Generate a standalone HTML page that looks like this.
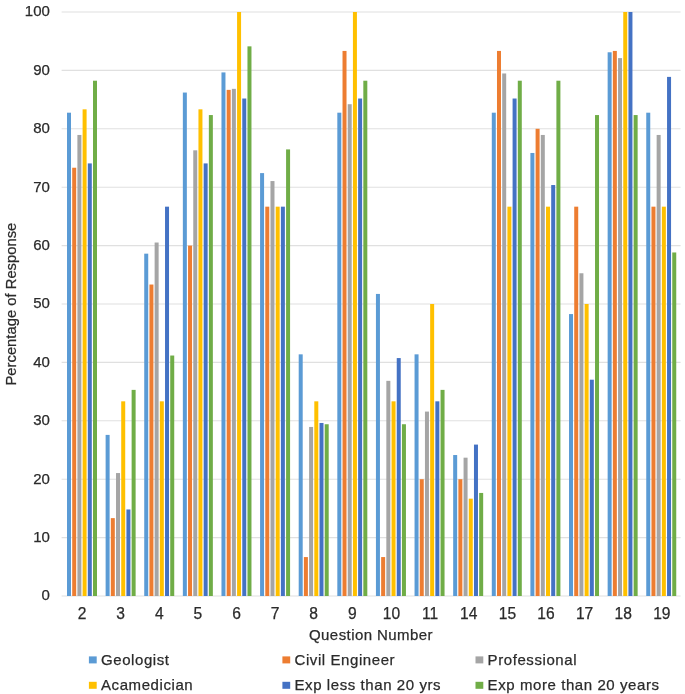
<!DOCTYPE html>
<html><head><meta charset="utf-8"><title>Chart</title>
<style>
html,body{margin:0;padding:0;background:#fff;}
body{width:685px;height:694px;overflow:hidden;font-family:"Liberation Sans",sans-serif;}
svg{display:block;will-change:transform;transform:translateZ(0);}
text{font-family:"Liberation Sans",sans-serif;fill:#2b2b2b;stroke:#2b2b2b;stroke-width:0.25px;}
</style></head><body>
<svg width="685" height="694" viewBox="0 0 685 694">
<rect x="0" y="0" width="685" height="694" fill="#ffffff"/>
<g stroke="#E0E0E0" stroke-width="1.1">
<line x1="61.6" y1="596.00" x2="680.6" y2="596.00"/>
<line x1="61.6" y1="537.60" x2="680.6" y2="537.60"/>
<line x1="61.6" y1="479.20" x2="680.6" y2="479.20"/>
<line x1="61.6" y1="420.80" x2="680.6" y2="420.80"/>
<line x1="61.6" y1="362.40" x2="680.6" y2="362.40"/>
<line x1="61.6" y1="304.00" x2="680.6" y2="304.00"/>
<line x1="61.6" y1="245.60" x2="680.6" y2="245.60"/>
<line x1="61.6" y1="187.20" x2="680.6" y2="187.20"/>
<line x1="61.6" y1="128.80" x2="680.6" y2="128.80"/>
<line x1="61.6" y1="70.40" x2="680.6" y2="70.40"/>
<line x1="61.6" y1="12.00" x2="680.6" y2="12.00"/>
</g>
<g><rect x="67.00" y="112.69" width="4.00" height="483.31" fill="#5B9BD5"/><rect x="72.20" y="167.73" width="4.00" height="428.27" fill="#ED7D31"/><rect x="77.40" y="134.95" width="4.00" height="461.05" fill="#A5A5A5"/><rect x="82.60" y="109.33" width="4.00" height="486.67" fill="#FFC000"/><rect x="87.80" y="163.41" width="4.00" height="432.59" fill="#4472C4"/><rect x="93.00" y="80.71" width="4.00" height="515.29" fill="#70AD47"/></g>
<g><rect x="105.62" y="434.90" width="4.00" height="161.10" fill="#5B9BD5"/><rect x="110.82" y="518.13" width="4.00" height="77.87" fill="#ED7D31"/><rect x="116.02" y="473.05" width="4.00" height="122.95" fill="#A5A5A5"/><rect x="121.22" y="401.33" width="4.00" height="194.67" fill="#FFC000"/><rect x="126.42" y="509.48" width="4.00" height="86.52" fill="#4472C4"/><rect x="131.62" y="389.88" width="4.00" height="206.12" fill="#70AD47"/></g>
<g><rect x="144.23" y="253.66" width="4.00" height="342.34" fill="#5B9BD5"/><rect x="149.43" y="284.53" width="4.00" height="311.47" fill="#ED7D31"/><rect x="154.63" y="242.53" width="4.00" height="353.47" fill="#A5A5A5"/><rect x="159.83" y="401.33" width="4.00" height="194.67" fill="#FFC000"/><rect x="165.03" y="206.67" width="4.00" height="389.33" fill="#4472C4"/><rect x="170.23" y="355.53" width="4.00" height="240.47" fill="#70AD47"/></g>
<g><rect x="182.85" y="92.55" width="4.00" height="503.45" fill="#5B9BD5"/><rect x="188.05" y="245.60" width="4.00" height="350.40" fill="#ED7D31"/><rect x="193.25" y="150.32" width="4.00" height="445.68" fill="#A5A5A5"/><rect x="198.45" y="109.33" width="4.00" height="486.67" fill="#FFC000"/><rect x="203.65" y="163.41" width="4.00" height="432.59" fill="#4472C4"/><rect x="208.85" y="115.06" width="4.00" height="480.94" fill="#70AD47"/></g>
<g><rect x="221.47" y="72.41" width="4.00" height="523.59" fill="#5B9BD5"/><rect x="226.67" y="89.87" width="4.00" height="506.13" fill="#ED7D31"/><rect x="231.87" y="88.84" width="4.00" height="507.16" fill="#A5A5A5"/><rect x="237.07" y="12.00" width="4.00" height="584.00" fill="#FFC000"/><rect x="242.27" y="98.52" width="4.00" height="497.48" fill="#4472C4"/><rect x="247.47" y="46.35" width="4.00" height="549.65" fill="#70AD47"/></g>
<g><rect x="260.08" y="173.10" width="4.00" height="422.90" fill="#5B9BD5"/><rect x="265.28" y="206.67" width="4.00" height="389.33" fill="#ED7D31"/><rect x="270.48" y="181.05" width="4.00" height="414.95" fill="#A5A5A5"/><rect x="275.69" y="206.67" width="4.00" height="389.33" fill="#FFC000"/><rect x="280.88" y="206.67" width="4.00" height="389.33" fill="#4472C4"/><rect x="286.08" y="149.41" width="4.00" height="446.59" fill="#70AD47"/></g>
<g><rect x="298.70" y="354.34" width="4.00" height="241.66" fill="#5B9BD5"/><rect x="303.90" y="557.07" width="4.00" height="38.93" fill="#ED7D31"/><rect x="309.10" y="426.95" width="4.00" height="169.05" fill="#A5A5A5"/><rect x="314.30" y="401.33" width="4.00" height="194.67" fill="#FFC000"/><rect x="319.50" y="422.96" width="4.00" height="173.04" fill="#4472C4"/><rect x="324.70" y="424.24" width="4.00" height="171.76" fill="#70AD47"/></g>
<g><rect x="337.32" y="112.69" width="4.00" height="483.31" fill="#5B9BD5"/><rect x="342.52" y="50.93" width="4.00" height="545.07" fill="#ED7D31"/><rect x="347.72" y="104.21" width="4.00" height="491.79" fill="#A5A5A5"/><rect x="352.92" y="12.00" width="4.00" height="584.00" fill="#FFC000"/><rect x="358.12" y="98.52" width="4.00" height="497.48" fill="#4472C4"/><rect x="363.32" y="80.71" width="4.00" height="515.29" fill="#70AD47"/></g>
<g><rect x="375.94" y="293.93" width="4.00" height="302.07" fill="#5B9BD5"/><rect x="381.14" y="557.07" width="4.00" height="38.93" fill="#ED7D31"/><rect x="386.34" y="380.84" width="4.00" height="215.16" fill="#A5A5A5"/><rect x="391.54" y="401.33" width="4.00" height="194.67" fill="#FFC000"/><rect x="396.74" y="358.07" width="4.00" height="237.93" fill="#4472C4"/><rect x="401.94" y="424.24" width="4.00" height="171.76" fill="#70AD47"/></g>
<g><rect x="414.55" y="354.34" width="4.00" height="241.66" fill="#5B9BD5"/><rect x="419.75" y="479.20" width="4.00" height="116.80" fill="#ED7D31"/><rect x="424.95" y="411.58" width="4.00" height="184.42" fill="#A5A5A5"/><rect x="430.15" y="304.00" width="4.00" height="292.00" fill="#FFC000"/><rect x="435.35" y="401.33" width="4.00" height="194.67" fill="#4472C4"/><rect x="440.55" y="389.88" width="4.00" height="206.12" fill="#70AD47"/></g>
<g><rect x="453.17" y="455.03" width="4.00" height="140.97" fill="#5B9BD5"/><rect x="458.37" y="479.20" width="4.00" height="116.80" fill="#ED7D31"/><rect x="463.57" y="457.68" width="4.00" height="138.32" fill="#A5A5A5"/><rect x="468.77" y="498.67" width="4.00" height="97.33" fill="#FFC000"/><rect x="473.97" y="444.59" width="4.00" height="151.41" fill="#4472C4"/><rect x="479.17" y="492.94" width="4.00" height="103.06" fill="#70AD47"/></g>
<g><rect x="491.79" y="112.69" width="4.00" height="483.31" fill="#5B9BD5"/><rect x="496.99" y="50.93" width="4.00" height="545.07" fill="#ED7D31"/><rect x="502.19" y="73.47" width="4.00" height="522.53" fill="#A5A5A5"/><rect x="507.39" y="206.67" width="4.00" height="389.33" fill="#FFC000"/><rect x="512.59" y="98.52" width="4.00" height="497.48" fill="#4472C4"/><rect x="517.79" y="80.71" width="4.00" height="515.29" fill="#70AD47"/></g>
<g><rect x="530.40" y="152.97" width="4.00" height="443.03" fill="#5B9BD5"/><rect x="535.60" y="128.80" width="4.00" height="467.20" fill="#ED7D31"/><rect x="540.80" y="134.95" width="4.00" height="461.05" fill="#A5A5A5"/><rect x="546.00" y="206.67" width="4.00" height="389.33" fill="#FFC000"/><rect x="551.20" y="185.04" width="4.00" height="410.96" fill="#4472C4"/><rect x="556.40" y="80.71" width="4.00" height="515.29" fill="#70AD47"/></g>
<g><rect x="569.02" y="314.07" width="4.00" height="281.93" fill="#5B9BD5"/><rect x="574.22" y="206.67" width="4.00" height="389.33" fill="#ED7D31"/><rect x="579.42" y="273.26" width="4.00" height="322.74" fill="#A5A5A5"/><rect x="584.62" y="304.00" width="4.00" height="292.00" fill="#FFC000"/><rect x="589.82" y="379.70" width="4.00" height="216.30" fill="#4472C4"/><rect x="595.02" y="115.06" width="4.00" height="480.94" fill="#70AD47"/></g>
<g><rect x="607.64" y="52.28" width="4.00" height="543.72" fill="#5B9BD5"/><rect x="612.84" y="50.93" width="4.00" height="545.07" fill="#ED7D31"/><rect x="618.04" y="58.11" width="4.00" height="537.89" fill="#A5A5A5"/><rect x="623.24" y="12.00" width="4.00" height="584.00" fill="#FFC000"/><rect x="628.44" y="12.00" width="4.00" height="584.00" fill="#4472C4"/><rect x="633.64" y="115.06" width="4.00" height="480.94" fill="#70AD47"/></g>
<g><rect x="646.25" y="112.69" width="4.00" height="483.31" fill="#5B9BD5"/><rect x="651.46" y="206.67" width="4.00" height="389.33" fill="#ED7D31"/><rect x="656.65" y="134.95" width="4.00" height="461.05" fill="#A5A5A5"/><rect x="661.86" y="206.67" width="4.00" height="389.33" fill="#FFC000"/><rect x="667.05" y="76.89" width="4.00" height="519.11" fill="#4472C4"/><rect x="672.25" y="252.47" width="4.00" height="343.53" fill="#70AD47"/></g>
<g font-size="15" text-anchor="end">
<text x="49.9" y="600.30">0</text>
<text x="49.9" y="541.90">10</text>
<text x="49.9" y="483.50">20</text>
<text x="49.9" y="425.10">30</text>
<text x="49.9" y="366.70">40</text>
<text x="49.9" y="308.30">50</text>
<text x="49.9" y="249.90">60</text>
<text x="49.9" y="191.50">70</text>
<text x="49.9" y="133.10">80</text>
<text x="49.9" y="74.70">90</text>
<text x="49.9" y="16.30">100</text>
</g>
<g font-size="15.6" text-anchor="middle">
<text x="82.00" y="619.2">2</text>
<text x="120.62" y="619.2">3</text>
<text x="159.23" y="619.2">4</text>
<text x="197.85" y="619.2">5</text>
<text x="236.47" y="619.2">6</text>
<text x="275.08" y="619.2">7</text>
<text x="313.70" y="619.2">8</text>
<text x="352.32" y="619.2">9</text>
<text x="391.54" y="619.2">10</text>
<text x="430.15" y="619.2">11</text>
<text x="468.77" y="619.2">14</text>
<text x="507.39" y="619.2">15</text>
<text x="546.00" y="619.2">16</text>
<text x="584.62" y="619.2">17</text>
<text x="623.24" y="619.2">18</text>
<text x="661.86" y="619.2">19</text>
</g>
<text x="371" y="639.5" font-size="15" letter-spacing="0.43" text-anchor="middle">Question Number</text>
<text transform="translate(16.0,304.1) rotate(-90)" font-size="14.8" letter-spacing="0" text-anchor="middle">Percentage of Response</text>
<g font-size="15" letter-spacing="0.58">
<rect x="88.9" y="656.4" width="7.8" height="7" fill="#5B9BD5"/><text x="101.0" y="665.2">Geologist</text>
<rect x="282.4" y="656.4" width="7.8" height="7" fill="#ED7D31"/><text x="294.5" y="665.2">Civil Engineer</text>
<rect x="475.5" y="656.4" width="7.8" height="7" fill="#A5A5A5"/><text x="487.6" y="665.2">Professional</text>
<rect x="88.9" y="681.8" width="7.8" height="7" fill="#FFC000"/><text x="101.0" y="690.1">Acamedician</text>
<rect x="282.4" y="681.8" width="7.8" height="7" fill="#4472C4"/><text x="294.5" y="690.1">Exp less than 20 yrs</text>
<rect x="475.5" y="681.8" width="7.8" height="7" fill="#70AD47"/><text x="487.6" y="690.1">Exp more than 20 years</text>
</g>
</svg>
</body></html>
